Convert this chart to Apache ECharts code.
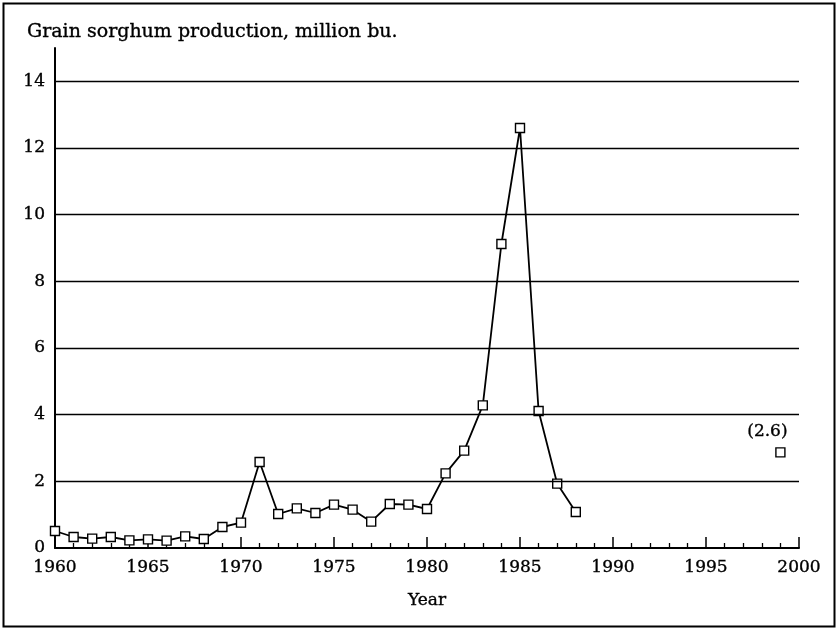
<!DOCTYPE html>
<html>
<head>
<meta charset="utf-8">
<script src="https://cdn.jsdelivr.net/npm/echarts@6/dist/echarts.min.js"></script>
<style>
  html, body { margin: 0; padding: 0; background: #fff; }
  #chart { width: 838px; height: 628px; }
</style>
</head>
<body>
<div id="chart"></div>
<script>
// yearly production 1960-1988, million bu.
const years = [1960, 1961, 1962, 1963, 1964, 1965, 1966, 1967, 1968, 1969,
  1970, 1971, 1972, 1973, 1974, 1975, 1976, 1977, 1978, 1979,
  1980, 1981, 1982, 1983, 1984, 1985, 1986, 1987, 1988];
const production = [0.51, 0.33, 0.28, 0.33, 0.23, 0.26, 0.22, 0.35, 0.27, 0.63,
  0.76, 2.58, 1.02, 1.19, 1.05, 1.30, 1.15, 0.79, 1.32, 1.30,
  1.17, 2.24, 2.92, 4.28, 9.12, 12.6, 4.11, 1.93, 1.08];
// projected point
const projYear = [1999];
const projValue = [2.87];
const projLabel = '(2.6)';
const gridValues = [2, 4, 6, 8, 10, 12, 14];

const font = 'DejaVu Serif';
const ink = '#000';
// a thin outline makes the text a bit heavier, like the printed original
const heavy = { textBorderColor: ink, textBorderWidth: 0.35 };
const chart = echarts.init(document.getElementById('chart'));

const option = {
  animation: false,
  backgroundColor: '#fff',
  title: {
    text: 'Grain sorghum production, million bu.',
    left: 22,
    top: 18,
    textStyle: Object.assign({ fontFamily: font, fontSize: 19, fontWeight: 'normal', color: ink }, heavy)
  },
  graphic: [{
    type: 'rect',
    shape: { x: 3.5, y: 3.5, width: 831, height: 623 },
    style: { fill: 'none', stroke: ink, lineWidth: 2 },
    silent: true
  }],
  grid: { left: 55, right: 39, top: 48, bottom: 80 },
  xAxis: {
    type: 'value',
    min: 1960,
    max: 2000,
    interval: 5,
    name: 'Year',
    nameLocation: 'middle',
    nameGap: 44,
    nameTextStyle: Object.assign({ fontFamily: font, fontSize: 17, color: ink }, heavy),
    axisLine: { onZero: false, lineStyle: { color: ink, width: 2 } },
    axisTick: { inside: true, length: 11, lineStyle: { color: ink, width: 1.5 } },
    minorTick: { show: true, splitNumber: 5, length: 5, lineStyle: { color: ink, width: 1.3 } },
    axisLabel: Object.assign({
      fontFamily: font, fontSize: 17, color: ink, margin: 11,
      formatter: v => String(v)
    }, heavy),
    splitLine: { show: false }
  },
  yAxis: {
    type: 'value',
    min: 0,
    max: 15,
    interval: 2,
    axisLine: { show: true, lineStyle: { color: ink, width: 2 } },
    axisTick: { show: false },
    axisLabel: Object.assign({
      fontFamily: font, fontSize: 17, color: ink, margin: 10,
      formatter: v => (v % 2 === 0 ? String(v) : '')
    }, heavy),
    splitLine: { show: false }
  },
  series: [
    {
      type: 'line',
      data: years.map((y, i) => [y, production[i]]),
      symbol: 'rect',
      symbolSize: 9,
      showAllSymbol: true,
      itemStyle: { color: '#fff', borderColor: ink, borderWidth: 1.4 },
      lineStyle: { color: ink, width: 1.8 },
      z: 3,
      markLine: {
        silent: true,
        symbol: 'none',
        label: { show: false },
        lineStyle: { color: ink, width: 1.3, type: 'solid' },
        data: gridValues.map(v => ({ yAxis: v }))
      }
    },
    {
      type: 'scatter',
      data: projYear.map((y, i) => [y, projValue[i]]),
      symbol: 'rect',
      symbolSize: 9,
      itemStyle: { color: '#fff', borderColor: ink, borderWidth: 1.4, opacity: 1 },
      label: Object.assign({
        show: true,
        position: 'top',
        offset: [-13, -2],
        formatter: projLabel,
        fontFamily: font,
        fontSize: 17,
        color: ink,
        opacity: 1
      }, heavy),
      z: 3
    }
  ]
};

chart.setOption(option);
</script>
</body>
</html>
